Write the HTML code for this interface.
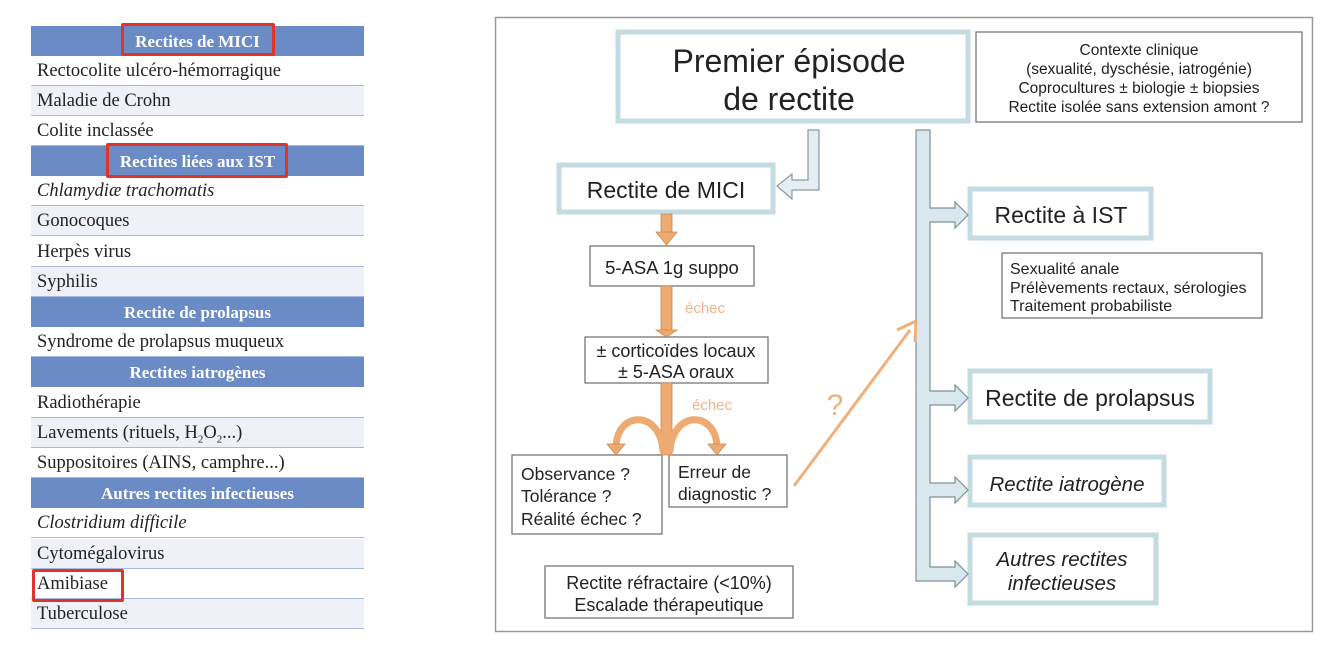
<!DOCTYPE html>
<html><head><meta charset="utf-8"><style>
body{margin:0;background:#fff;width:1334px;height:654px;overflow:hidden;position:relative;font-family:"Liberation Serif",serif}
.t{position:absolute;left:31px;width:333px}
.r{position:absolute;left:0;width:333px;height:30px;box-sizing:border-box;border-bottom:1.5px solid #a9bbdc;font-size:18.5px;color:#222;padding-left:6px;line-height:31px;white-space:nowrap}
.s{background:#eef1f7}
.h{background:#6a8bc5;color:#fff;text-align:center;font-weight:bold;border-bottom:none;font-size:17px;padding-left:0}
.red{position:absolute;border:3px solid #e0342a;border-radius:2px;box-sizing:border-box}
svg{position:absolute;left:0;top:0}
svg text{font-family:"Liberation Sans",sans-serif;fill:#222}
</style></head><body>
<div class="t">
<div class="r h" style="top:26px">Rectites de MICI</div>
<div class="r" style="top:56px">Rectocolite ulcéro-hémorragique</div>
<div class="r s" style="top:86px">Maladie de Crohn</div>
<div class="r" style="top:116px">Colite inclassée</div>
<div class="r h" style="top:146px">Rectites liées aux IST</div>
<div class="r" style="top:176px"><i>Chlamydiæ trachomatis</i></div>
<div class="r s" style="top:206px">Gonocoques</div>
<div class="r" style="top:237px">Herpès virus</div>
<div class="r s" style="top:267px">Syphilis</div>
<div class="r h" style="top:297px">Rectite de prolapsus</div>
<div class="r" style="top:327px">Syndrome de prolapsus muqueux</div>
<div class="r h" style="top:357px">Rectites iatrogènes</div>
<div class="r" style="top:388px">Radiothérapie</div>
<div class="r s" style="top:418px">Lavements (rituels, H<sub style="font-size:11px">2</sub>O<sub style="font-size:11px">2</sub>...)</div>
<div class="r" style="top:448px">Suppositoires (AINS, camphre...)</div>
<div class="r h" style="top:478px">Autres rectites infectieuses</div>
<div class="r" style="top:508px"><i>Clostridium difficile</i></div>
<div class="r s" style="top:539px">Cytomégalovirus</div>
<div class="r" style="top:569px">Amibiase</div>
<div class="r s" style="top:599px">Tuberculose</div>
</div>
<div class="red" style="left:121px;top:23px;width:154px;height:33px"></div>
<div class="red" style="left:106px;top:143px;width:182px;height:35px"></div>
<div class="red" style="left:32px;top:569px;width:92px;height:33px"></div>

<svg width="1334" height="654" viewBox="0 0 1334 654">
<rect x="495.5" y="17.5" width="817" height="614" fill="#fff" stroke="#999" stroke-width="1.5"/>
<g fill="#fff" stroke="#c4dbe2" stroke-width="5">
<rect x="618" y="32" width="350" height="89"/>
<rect x="559" y="165" width="214" height="47"/>
<rect x="970" y="189" width="181" height="49"/>
<rect x="970" y="371" width="240" height="51"/>
<rect x="970" y="457" width="194" height="48"/>
<rect x="970" y="535" width="186" height="68"/>
</g>
<g fill="#fff" stroke="#777" stroke-width="1.3">
<rect x="976" y="32" width="326" height="90"/>
<rect x="590" y="246" width="164" height="40"/>
<rect x="585" y="337" width="183" height="46"/>
<rect x="512" y="455" width="150" height="79"/>
<rect x="669" y="455" width="118" height="52"/>
<rect x="545" y="566" width="248" height="52"/>
<rect x="1002" y="253" width="260" height="65"/>
</g>
<path d="M808,130 H819 V190 H792 V199 L777,186 L792,174 V180 H808 Z" fill="#e3eef2" stroke="#8a9aa0" stroke-width="1.2"/>
<path d="M916,130 H930 V208 H955 V202 L968,215 L955,228 V222 H930 V391 H955 V385 L968,398 L955,411 V405 H930 V483 H955 V477 L968,490 L955,503 V497 H930 V567 H955 V561 L968,574 L955,587 V581 H916 Z" fill="#d9e8ee" stroke="#7f9297" stroke-width="1.2"/>
<g fill="#eeaa70" stroke="#c98a55" stroke-width="0.8">
<rect x="661" y="214" width="11" height="20"/>
<path d="M656,232 H677 L666.5,245 Z"/>
<rect x="661" y="286" width="11" height="47"/>
<path d="M656,330 H677 L666.5,337 Z"/>
<rect x="661" y="383" width="11" height="72"/>
</g>
<g fill="none" stroke="#eeaa70" stroke-width="7">
<path d="M663,452 C661,410 618,410 616,446"/>
<path d="M670,452 C672,410 715,410 717,446"/>
</g>
<path d="M607,444 H625 L616,455 Z M708,444 H726 L717,455 Z" fill="#eeaa70" stroke="#c98a55" stroke-width="0.8"/>
<line x1="794" y1="486" x2="910" y2="330" stroke="#f0b07a" stroke-width="3"/>
<path d="M916,321 L915,342 M916,321 L897,330" stroke="#f0b07a" stroke-width="3" fill="none"/>
<text x="835" y="415" font-size="30" text-anchor="middle" style="fill:#f0b07a">?</text>
<text x="705" y="313" font-size="15" text-anchor="middle" style="fill:#f2b38a">échec</text>
<text x="712" y="410" font-size="15" text-anchor="middle" style="fill:#f2b38a">échec</text>
<g text-anchor="middle">
<text x="789" y="72" font-size="32">Premier épisode</text>
<text x="789" y="110" font-size="32">de rectite</text>
<text x="666" y="198" font-size="23">Rectite de MICI</text>
<text x="672" y="274" font-size="18.5">5-ASA 1g suppo</text>
<text x="676" y="357" font-size="18">± corticoïdes locaux</text>
<text x="676" y="378" font-size="18">± 5-ASA oraux</text>
<text x="669" y="589" font-size="18">Rectite réfractaire (&lt;10%)</text>
<text x="669" y="611" font-size="18">Escalade thérapeutique</text>
<g font-size="15.5"><text x="1139" y="55">Contexte clinique</text><text x="1139" y="74">(sexualité, dyschésie, iatrogénie)</text><text x="1139" y="93">Coprocultures ± biologie ± biopsies</text><text x="1139" y="112">Rectite isolée sans extension amont ?</text></g>
<text x="1061" y="223" font-size="23">Rectite à IST</text>
<text x="1090" y="406" font-size="23">Rectite de prolapsus</text>
<text x="1067" y="491" font-size="20.5" font-style="italic">Rectite iatrogène</text>
<text x="1062" y="566" font-size="20.5" font-style="italic">Autres rectites</text>
<text x="1062" y="590" font-size="20.5" font-style="italic">infectieuses</text>
</g>
<g font-size="17.5"><text x="521" y="480">Observance ?</text><text x="521" y="502">Tolérance ?</text><text x="521" y="525">Réalité échec ?</text>
<text x="678" y="478">Erreur de</text><text x="678" y="500">diagnostic ?</text></g>
<g font-size="16"><text x="1010" y="274">Sexualité anale</text><text x="1010" y="293">Prélèvements rectaux, sérologies</text><text x="1010" y="311">Traitement probabiliste</text></g>
</svg>
</body></html>
